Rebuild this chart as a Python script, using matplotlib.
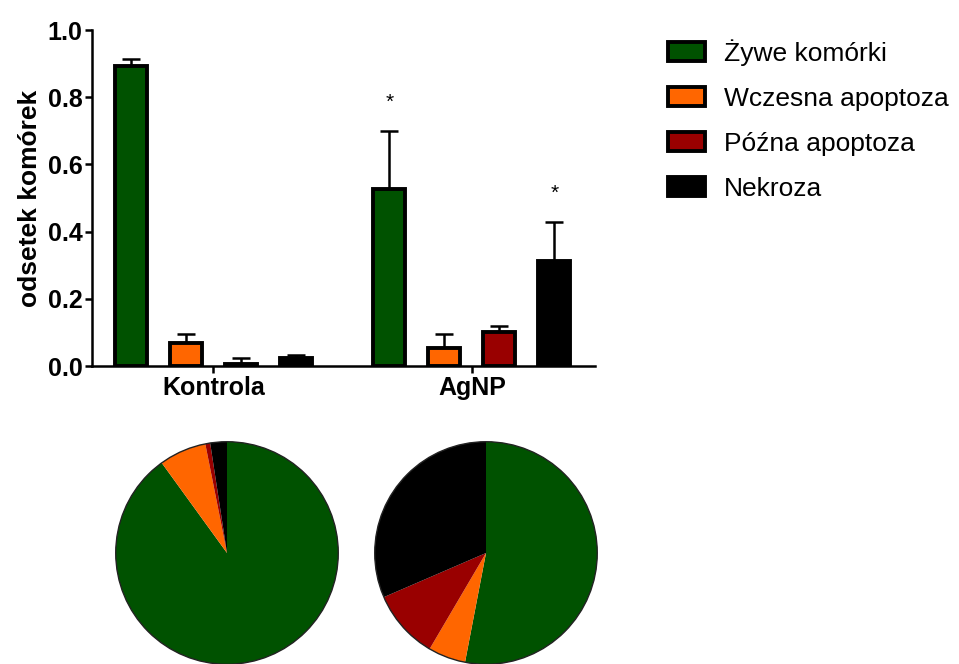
import matplotlib
matplotlib.use('Agg')
import matplotlib.pyplot as plt
from matplotlib.patches import Patch, Circle
import numpy as np

plt.rcParams['font.family'] = ['Liberation Sans', 'DejaVu Sans']

# data
groups = ['Kontrola', 'AgNP']
series = ['Żywe komórki', 'Wczesna apoptoza', 'Późna apoptoza', 'Nekroza']
colors = ['#005200', '#ff6600', '#990000', '#000000']

zywe = [0.893, 0.527]
wczesna = [0.068, 0.054]
pozna = [0.007, 0.100]
nekroza = [0.024, 0.313]

zywe_err = [0.021, 0.173]
wczesna_err = [0.027, 0.041]
pozna_err = [0.017, 0.020]
nekroza_err = [0.009, 0.117]

# significance marks: (group index, series index)
stars = [(1, 0), (1, 3)]

means = [zywe, wczesna, pozna, nekroza]
errs = [zywe_err, wczesna_err, pozna_err, nekroza_err]

fig = plt.figure(figsize=(9.59, 6.64), dpi=100)

# ---- bar chart
ax = fig.add_axes([92 / 959, 298 / 664, 503 / 959, 336 / 664])
group_offset = 4.7
bar_w = 0.58
for g in range(len(groups)):
    for s in range(len(series)):
        x = g * group_offset + s
        ax.bar(x, means[s][g], width=bar_w, color=colors[s],
               edgecolor='black', linewidth=2.8, zorder=3)
        ax.errorbar(x, means[s][g], yerr=[[0], [errs[s][g]]], fmt='none',
                    ecolor='black', elinewidth=1.8, capsize=6.5,
                    capthick=1.8, zorder=2)

for g, s in stars:
    x = g * group_offset + s
    ax.text(x, means[s][g] + errs[s][g] + 0.085, '*', ha='center',
            va='center', fontsize=15)

ax.set_xlim(-0.71, 8.44)
ax.set_ylim(0, 1.0)
ax.set_yticks(np.arange(0, 1.01, 0.2))
ax.set_yticklabels(['%.1f' % v for v in np.arange(0, 1.01, 0.2)],
                   fontsize=18, fontweight='bold')
ax.set_xticks([1.5, 1.5 + group_offset])
ax.set_xticklabels(groups, fontsize=18, fontweight='bold')
ax.set_ylabel('odsetek komórek', fontsize=19, fontweight='bold', labelpad=4)
for side in ['top', 'right']:
    ax.spines[side].set_visible(False)
for side in ['left', 'bottom']:
    ax.spines[side].set_linewidth(1.8)
ax.tick_params(axis='both', width=1.8, length=5, direction='out', pad=2)

# ---- legend
handles = [Patch(facecolor=c, edgecolor='black', linewidth=2.8) for c in colors]
fig.legend(handles, series, loc='upper left', bbox_to_anchor=(668 / 959, 625 / 664),
           frameon=False, fontsize=19, handlelength=1.4, handleheight=0.72,
           handletextpad=0.72, labelspacing=0.8, borderpad=0, borderaxespad=0)

# ---- pies
pie_centers = [227, 486]
r_px = 113.5
for g, cx in enumerate(pie_centers):
    pax = fig.add_axes([(cx - r_px) / 959, (664 - 553 - r_px) / 664,
                        2 * r_px / 959, 2 * r_px / 664])
    vals = [means[s][g] for s in range(len(series))]
    pax.pie(vals, colors=colors, startangle=90, counterclock=False,
            radius=1, wedgeprops={'linewidth': 0})
    pax.add_patch(Circle((0, 0), 1, fill=False, edgecolor='#222222', linewidth=1.0))
    pax.set_xlim(-1.02, 1.02)
    pax.set_ylim(-1.02, 1.02)
    pax.set_aspect('equal')
    pax.axis('off')

fig.savefig('out.png', dpi=100)
